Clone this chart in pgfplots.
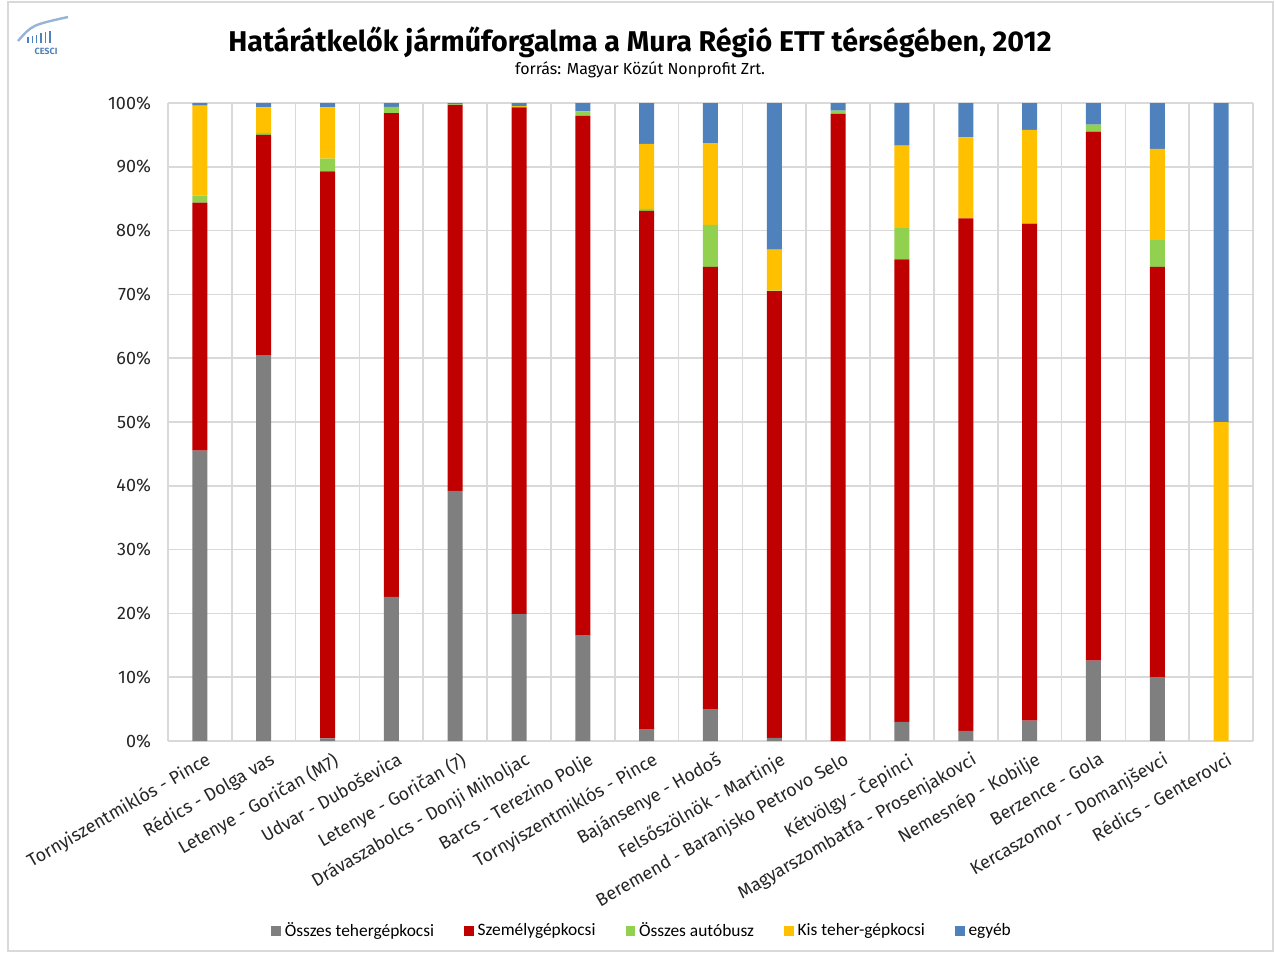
\documentclass[border=0pt]{standalone}
\usepackage{fontspec}
\setmainfont{Fira Sans}
\newfontfamily\legfont{Carlito}
\usepackage{pgfplots}
\usepackage{pgfplotstable}
\pgfplotsset{compat=1.18}

\definecolor{cgray}{HTML}{7F7F7F}
\definecolor{cred}{HTML}{C00000}
\definecolor{cgreen}{HTML}{92D050}
\definecolor{cyellow}{HTML}{FFC000}
\definecolor{cblue}{HTML}{4F81BD}
\definecolor{cgrid}{HTML}{D9D9D9}

% shares in percent
\pgfplotstableread{
x  gray  red   green yellow blue
0  45.5  38.9  1.1   14.1   0.4
1  60.5  34.5  0.3   4.0    0.7
2  0.4   88.9  2.0   8.0    0.7
3  22.6  75.8  1.0   0.0    0.6
4  39.2  60.5  0.1   0.0    0.2
5  19.9  79.4  0.1   0.1    0.5
6  16.5  81.5  0.7   0.0    1.3
7  1.8   81.3  0.3   10.2   6.4
8  4.9   69.4  6.6   12.8   6.3
9  0.5   70.0  0.1   6.4    23.0
10 0.0   98.3  0.5   0.0    1.2
11 3.0   72.5  4.9   12.9   6.7
12 1.6   80.3  0.0   12.7   5.4
13 3.2   77.9  0.0   14.7   4.2
14 12.6  82.9  1.1   0.0    3.4
15 10.0  64.3  4.2   14.3   7.2
16 0.0   0.0   0.0   50.0   50.0
}\data

\begin{document}
\begin{tikzpicture}
\useasboundingbox (-84pt,-106.5pt) rectangle (554pt,370.5pt);
\draw[cgrid, line width=0.8pt] (-80pt,-105pt) rectangle (552.5pt,369.5pt);
\node[font=\bfseries\fontsize{14.3}{17}\selectfont] at (236pt,349.5pt)
  {Határátkelők járműforgalma a Mura Régió ETT térségében, 2012};
\node[font=\fontsize{8}{10}\selectfont] at (236pt,335.5pt)
  {forrás: Magyar Közút Nonprofit Zrt.};
% logo
\draw[cblue!60, line width=1.2pt] (-75pt,350pt) .. controls (-68pt,358pt) .. (-50pt,362pt);
\foreach \i in {0,...,5} {\draw[cblue, line width=0.7pt] (-70pt+\i*2.2pt,349pt) -- ++(0,{3pt+\i*0.6pt});}
\node[font=\bfseries\fontsize{4.5}{5}\selectfont, text=cblue] at (-61pt,345pt) {CESCI};

\begin{axis}[
  at={(0,0)}, anchor=south west,
  scale only axis,
  width=542.5pt, height=319pt,
  ybar stacked,
  bar width=7.5pt,
  xmin=-0.5, xmax=16.5,
  ymin=0, ymax=100,
  xtick={0,...,16},
  xticklabels={Tornyiszentmiklós - Pince, Rédics - Dolga vas, Letenye - Goričan (M7),
    Udvar - Duboševica, Letenye - Goričan (7), Drávaszabolcs - Donji Miholjac,
    Barcs - Terezino Polje, Tornyiszentmiklós - Pince, Bajánsenye - Hodoš,
    Felsőszölnök - Martinje, Beremend - Baranjsko Petrovo Selo, Kétvölgy - Čepinci,
    Magyarszombatfa - Prosenjakovci, Nemesnép - Kobilje, Berzence - Gola,
    Kercaszomor - Domanjševci, Rédics - Genterovci},
  minor xtick={-0.5,0.5,...,16.5},
  xminorgrids, ymajorgrids,
  grid style={cgrid, line width=0.8pt},
  minor grid style={cgrid, line width=0.8pt},
  ytick={0,10,...,100},
  yticklabel={\pgfmathprintnumber{\tick}\%},
  major tick length=0pt, minor tick length=0pt,
  axis line style={draw=none},
  tick label style={font=\fontsize{9}{11}\selectfont, text=black!85},
  /pgf/number format/assume math mode=true,
  yticklabel style={xshift=-5pt},
  xticklabel style={rotate=30, anchor=north east, yshift=-2pt, xshift=3pt},
  legend style={at={(0.4378,-0.298)}, anchor=center, draw=none,
    font=\legfont\fontsize{8.7}{10}\selectfont,
    /tikz/every even column/.append style={column sep=13pt}},
  legend columns=-1,
  legend image code/.code={\fill[#1, draw=none] (0pt,-2.4pt) rectangle (4.8pt,2.4pt);},
]
\addplot[fill=cgray, draw=none] table[x=x, y=gray] {\data};
\addplot[fill=cred, draw=none] table[x=x, y=red] {\data};
\addplot[fill=cgreen, draw=none] table[x=x, y=green] {\data};
\addplot[fill=cyellow, draw=none] table[x=x, y=yellow] {\data};
\addplot[fill=cblue, draw=none] table[x=x, y=blue] {\data};
\legend{Összes tehergépkocsi, Személygépkocsi, Összes autóbusz, Kis teher-gépkocsi, egyéb}
\end{axis}
\end{tikzpicture}
\end{document}
